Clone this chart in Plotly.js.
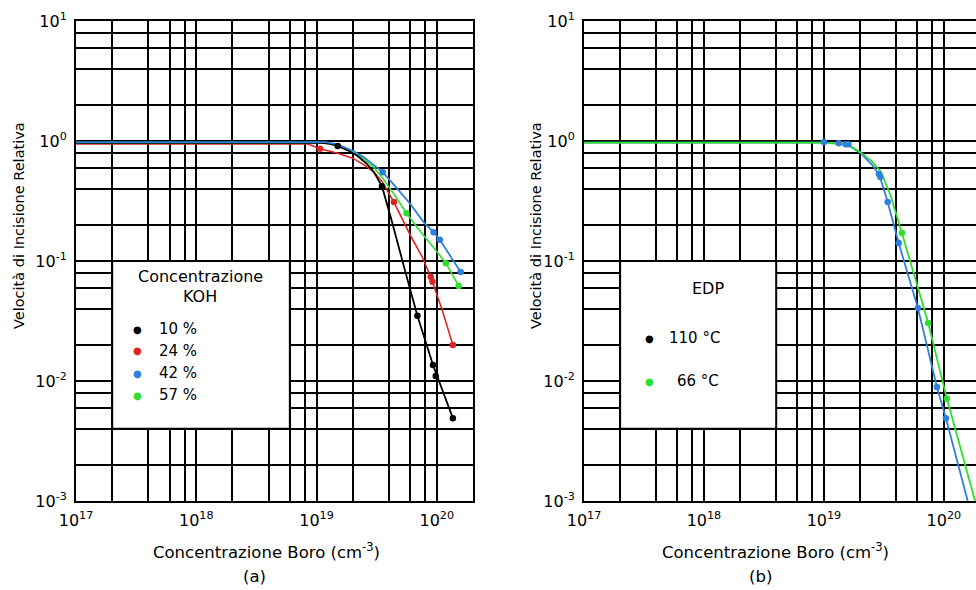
<!DOCTYPE html>
<html><head><meta charset="utf-8">
<script src="https://cdn.plot.ly/plotly-3.0.1.min.js"></script>
<style>html,body{margin:0;padding:0;overflow:hidden;background:#fff}#chart{width:990px;height:590px}</style>
</head><body><div id="chart"></div>
<script>
// ---------- DATA (a) KOH ----------
const xA10Pts = [1.5e19, 3.5e19, 6.9e19, 9.3e19, 9.8e19, 1.36e20];
const yA10Pts = [0.91, 0.42, 0.035, 0.0136, 0.011, 0.0049];
const xA10Curve = [1e17, 1.1e19, 1.3e19, 1.5e19, 1.8e19, 2.2e19, 2.6e19, 3.0e19, 3.5e19, 4.2e19, 5.5e19, 6.9e19, 9.3e19, 1.36e20];
const yA10Curve = [0.965, 0.965, 0.945, 0.91, 0.84, 0.75, 0.65, 0.55, 0.42, 0.22, 0.08, 0.035, 0.0136, 0.0049];

const xA24Pts = [1.07e19, 4.4e19, 8.9e19, 9.2e19, 1.36e20];
const yA24Pts = [0.86, 0.31, 0.074, 0.067, 0.02];
const xA24Curve = [1e17, 8.5e18, 1.07e19, 1.5e19, 2e19, 2.5e19, 3e19, 3.5e19, 4.4e19, 5.2e19, 6.1e19, 7.5e19, 8.9e19, 1.1e20, 1.36e20];
const yA24Curve = [0.945, 0.945, 0.86, 0.79, 0.72, 0.63, 0.55, 0.46, 0.31, 0.22, 0.16, 0.11, 0.074, 0.04, 0.02];

const xA42Pts = [3.55e19, 9.4e19, 1.06e20, 1.58e20];
const yA42Pts = [0.55, 0.174, 0.15, 0.081];
const xA42Curve = [1e17, 1.2e19, 1.4e19, 1.6e19, 2e19, 2.5e19, 3e19, 3.55e19, 4.5e19, 6e19, 7.8e19, 9.4e19, 1.06e20, 1.3e20, 1.58e20];
const yA42Curve = [0.98, 0.98, 0.95, 0.91, 0.83, 0.73, 0.63, 0.55, 0.42, 0.30, 0.21, 0.174, 0.15, 0.11, 0.081];

const xA57Pts = [5.6e19, 1.19e20, 1.52e20];
const yA57Pts = [0.25, 0.096, 0.062];
const xA57Curve = [1e17, 1.2e19, 1.6e19, 2e19, 2.5e19, 3e19, 3.5e19, 4.5e19, 5.6e19, 7.5e19, 1e20, 1.19e20, 1.52e20];
const yA57Curve = [0.965, 0.965, 0.9, 0.82, 0.71, 0.6, 0.5, 0.35, 0.25, 0.17, 0.12, 0.096, 0.062];

// ---------- DATA (b) EDP ----------
const xB110Pts = [1e19, 1.33e19, 1.52e19, 1.6e19, 2.87e19, 2.95e19, 3.4e19, 4.2e19, 6.07e19, 8.75e19, 1.04e20];
const yB110Pts = [0.98, 0.96, 0.94, 0.94, 0.53, 0.50, 0.31, 0.141, 0.0406, 0.0089, 0.0049];
const xB110Curve = [1e17, 1e19, 1.33e19, 1.6e19, 2e19, 2.5e19, 2.9e19, 3.4e19, 4.2e19, 6.07e19, 8.75e19, 1.04e20, 1.58e20];
const yB110Curve = [0.97, 0.97, 0.955, 0.92, 0.8, 0.64, 0.52, 0.31, 0.141, 0.0406, 0.0089, 0.0049, 0.001];

const xB66Pts = [4.47e19, 7.4e19, 1.06e20];
const yB66Pts = [0.171, 0.0304, 0.0071];
const xB66Curve = [1e17, 1e19, 1.6e19, 2.04e19, 2.5e19, 3e19, 3.6e19, 4.47e19, 7.4e19, 1.06e20, 1.82e20];
const yB66Curve = [0.97, 0.97, 0.93, 0.8, 0.68, 0.55, 0.35, 0.171, 0.0304, 0.0071, 0.001];

// ---------- LABELS ----------
const legendATitle = ["Concentrazione", "KOH"];
const legendALabels = ["10 %", "24 %", "42 %", "57 %"];
const legendBTitle = "EDP";
const legendBLabels = ["110 °C", "66 °C"];
const yTitle = "Velocità di Incisione Relativa";
const xTitle = "Concentrazione Boro (cm<sup>-3</sup>)";
const panelLabels = ["(a)", "(b)"];
const xDecades = [17, 18, 19, 20];
const yDecades = [-3, -2, -1, 0, 1];
const gridMults = [1, 2, 4, 6, 8];

// ---------- STYLE ----------
const C = {black: "#000000", red: "#e02424", blue: "#2f80dc", green: "#2ee02e"};
const FONT = "DejaVu Sans, Liberation Sans, Arial, sans-serif";
const W = 990, H = 590;
const px = v => v / W, py = v => 1 - v / H;

function ticks(decs, last) {
  const vals = [], txt = [];
  decs.forEach(d => gridMults.forEach(m => {
    const v = m * Math.pow(10, d);
    if (v <= last * 1.0001) { vals.push(v); txt.push(m === 1 ? "10<sup>" + d + "</sup>" : ""); }
  }));
  return {vals, txt};
}
const xt = ticks(xDecades, 2e20);
const yt = ticks(yDecades, 10);

function axisX(domain, anchor) {
  return {type: "log", domain, anchor, range: [17, Math.log10(2e20)],
    tickmode: "array", tickvals: xt.vals, ticktext: xt.txt,
    showgrid: true, gridcolor: "#000", gridwidth: 2, zeroline: false,
    showline: true, mirror: true, linecolor: "#000", linewidth: 2,
    ticks: "", ticklabelstandoff: 4, tickfont: {family: FONT, size: 16, color: "#000"}};
}
function axisY(domain, anchor) {
  return {type: "log", domain, anchor, range: [-3, 1],
    tickmode: "array", tickvals: yt.vals, ticktext: yt.txt,
    showgrid: true, gridcolor: "#000", gridwidth: 2, zeroline: false,
    showline: true, mirror: true, linecolor: "#000", linewidth: 2,
    ticks: "", ticklabelstandoff: 4, tickfont: {family: FONT, size: 16, color: "#000"}};
}

const yDom = [py(501), py(21)];
const layout = {
  width: W, height: H, margin: {l: 0, r: 0, t: 0, b: 0},
  paper_bgcolor: "#fff", plot_bgcolor: "#fff", showlegend: false,
  font: {family: FONT, color: "#000"},
  xaxis: axisX([px(76), px(473)], "y"),
  yaxis: axisY(yDom, "x"),
  xaxis2: axisX([px(584), px(980)], "y2"),
  yaxis2: axisY(yDom, "x2"),
  shapes: [
    {type: "rect", xref: "x", yref: "y", x0: 2e17, x1: 6e18, y0: 4e-3, y1: 0.1,
     fillcolor: "#fff", line: {color: "#000", width: 2}, layer: "between"},
    {type: "rect", xref: "x2", yref: "y2", x0: 2e17, x1: 4e18, y0: 4e-3, y1: 0.1,
     fillcolor: "#fff", line: {color: "#000", width: 2}, layer: "between"}
  ],
  annotations: []
};
const A = layout.annotations;
const txt = (x, y, t, size, opts) => A.push(Object.assign({xref: "paper", yref: "paper", x: px(x), y: py(y), text: t,
  xanchor: "center", yanchor: "middle", showarrow: false,
  font: {family: FONT, size: size, color: "#000"}}, opts || {}));

// axis titles
[[19, 226], [536, 226]].forEach(p => txt(p[0], p[1], yTitle, 14.5, {textangle: -90}));
txt(266, 551, xTitle, 16.5);
txt(775, 551, xTitle, 16.5);
txt(254, 576, panelLabels[0], 16.5);
txt(760, 576, panelLabels[1], 16.5);

// legend (a)
txt(200, 276, legendATitle[0], 16);
txt(200, 296, legendATitle[1], 16);
const legAColors = [C.black, C.red, C.blue, C.green];
const legAY = [329, 351, 373, 395];
legendALabels.forEach((l, i) => {
  txt(137, legAY[i], "●", 10, {font: {family: FONT, size: 10, color: legAColors[i]}});
  txt(157, legAY[i], l, 15, {xanchor: "left"});
});
// legend (b)
txt(708, 289, legendBTitle, 16);
txt(649, 338, "●", 10, {font: {family: FONT, size: 10, color: C.black}});
txt(667, 338, legendBLabels[0], 15, {xanchor: "left"});
txt(649, 381, "●", 10, {font: {family: FONT, size: 10, color: C.green}});
txt(675, 381, legendBLabels[1], 15, {xanchor: "left"});

function line(x, y, color, xa, ya, w) {
  return {type: "scatter", mode: "lines", x, y, xaxis: xa, yaxis: ya,
    line: {color, width: w || 1.5, shape: "linear"}, hoverinfo: "skip"};
}
function pts(x, y, color, xa, ya) {
  return {type: "scatter", mode: "markers", x, y, xaxis: xa, yaxis: ya,
    marker: {color, size: 6.5, symbol: "circle"}, cliponaxis: false};
}
const data = [
  line(xA24Curve, yA24Curve, C.red, "x", "y", 1.6),
  line(xA57Curve, yA57Curve, C.green, "x", "y", 1.6),
  line(xA10Curve, yA10Curve, C.black, "x", "y", 1.8),
  line(xA42Curve, yA42Curve, C.blue, "x", "y", 1.8),
  pts(xA24Pts, yA24Pts, C.red, "x", "y"),
  pts(xA57Pts, yA57Pts, C.green, "x", "y"),
  pts(xA10Pts, yA10Pts, C.black, "x", "y"),
  pts(xA42Pts, yA42Pts, C.blue, "x", "y"),
  line(xB110Curve, yB110Curve, C.blue, "x2", "y2", 1.8),
  line(xB66Curve, yB66Curve, C.green, "x2", "y2", 1.8),
  pts(xB66Pts, yB66Pts, C.green, "x2", "y2"),
  pts(xB110Pts, yB110Pts, C.blue, "x2", "y2")
];
Plotly.newPlot("chart", data, layout, {staticPlot: true, displayModeBar: false});
</script></body></html>
